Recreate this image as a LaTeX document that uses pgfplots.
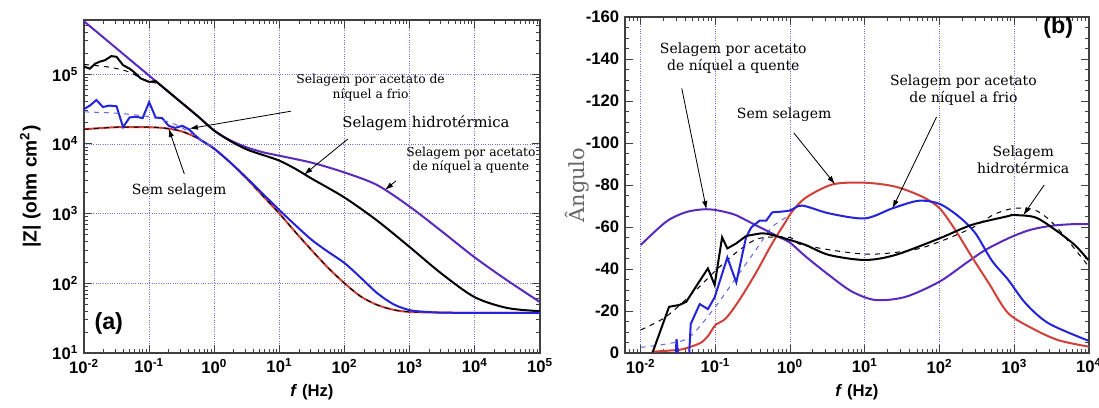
\documentclass[border=0pt]{standalone}
\usepackage{fontspec}
\setmainfont{DejaVu Serif}
\setsansfont{Liberation Sans}
\usepackage{pgfplots}
\pgfplotsset{compat=1.18}
\usetikzlibrary{arrows.meta}

\definecolor{cquente}{HTML}{5A2ABE}
\definecolor{cfrio}{HTML}{2323D9}
\definecolor{csem}{HTML}{D2403A}
\definecolor{cgrid}{HTML}{7070D8}

\tikzset{
  ann/.style={font=\fontsize{7.4}{8.6}\selectfont, align=center, text=black},
  annb/.style={font=\fontsize{8.4}{10}\selectfont, align=center, text=black},
  arr/.style={-{Latex[length=5pt,width=3.2pt]}, line width=0.5pt, black},
}

\begin{document}
\begin{tikzpicture}
\useasboundingbox (0,0) rectangle (659.4pt,244.2pt);

% ---------- (a) modulus ----------
\begin{axis}[
  scale only axis,
  at={(50.4pt,32.4pt)}, anchor=south west,
  width=273.6pt, height=199.8pt,
  xmode=log, ymode=log,
  xmin=0.01, xmax=100000, ymin=10, ymax=600000,
  xtick={0.01,0.1,1,10,100,1000,10000,100000},
  minor xtick={0.02,0.03,0.04,0.05,0.06,0.07,0.08,0.09,
    0.2,0.3,0.4,0.5,0.6,0.7,0.8,0.9,2,3,4,5,6,7,8,9,
    20,30,40,50,60,70,80,90,200,300,400,500,600,700,800,900,
    2000,3000,4000,5000,6000,7000,8000,9000,
    20000,30000,40000,50000,60000,70000,80000,90000},
  ytick={10,100,1000,10000,100000},
  minor ytick={20,30,40,50,60,70,80,90,200,300,400,500,600,700,800,900,
    2000,3000,4000,5000,6000,7000,8000,9000,
    20000,30000,40000,50000,60000,70000,80000,90000,
    200000,300000,400000,500000},
  xticklabels={10\textsuperscript{-2},10\textsuperscript{-1},10\textsuperscript{0},10\textsuperscript{1},10\textsuperscript{2},10\textsuperscript{3},10\textsuperscript{4},10\textsuperscript{5}},
  yticklabels={10\textsuperscript{1},10\textsuperscript{2},10\textsuperscript{3},10\textsuperscript{4},10\textsuperscript{5}},
  tick align=inside,
  major tick length=4.8pt, minor tick length=2.4pt,
  axis line style={line width=0.9pt, black!75},
  tick style={black!75, line width=0.6pt},
  tick label style={font=\sffamily\bfseries\fontsize{10}{10}\selectfont},
  xlabel style={font=\sffamily\bfseries\fontsize{10}{11}\selectfont},
  ylabel style={font=\sffamily\bfseries\fontsize{11.5}{12}\selectfont},
  major grid style={densely dotted, line width=0.5pt, cgrid},
  grid=major,
  xlabel={\textit{f} (Hz)},
  ylabel={|Z| (ohm cm\textsuperscript{2})},
]
\addplot[cquente, line width=1.2pt, smooth] coordinates {
 (0.01,575400) (0.01778,367300) (0.03162,234400) (0.05623,149600) (0.1,95500)
 (0.1778,60950) (0.3162,38900) (0.5623,24830) (1,15490) (1.778,11220)
 (3.162,8913) (5.623,7586) (10,6761) (31.62,5370) (100,3890) (316.2,2570)
 (1000,1259) (3162,549.5) (10000,234.4) (31623,109.6) (100000,53.7)};
\addplot[black, line width=1.2pt] coordinates {
 (0.01,128800) (0.0123,120200) (0.01479,141300) (0.01738,151400) (0.02089,158500)
 (0.0263,182000) (0.03162,177800) (0.03981,134900) (0.05012,120200) (0.05888,107200)
 (0.07413,87100) (0.1,77600) (0.1259,79800)};
\addplot[black, line width=1.2pt, smooth] coordinates {
 (0.1259,79800) (0.1778,60950) (0.3162,38900)
 (0.5623,24830) (1,15490) (1.778,10960) (3.162,8318) (5.623,6918) (10,5754)
 (17.78,4365) (31.62,3162) (100,1698) (316.2,794) (1000,331) (3162,135)
 (10000,63.1) (31623,44.2) (100000,39.8)};
\addplot[black, dashed, line width=0.6pt, smooth] coordinates {
 (0.01,138000) (0.02512,125900) (0.05012,107200) (0.07943,85100) (0.1413,72400)};
\addplot[csem, line width=1.2pt, smooth] coordinates {
 (0.01,16220) (0.03162,17380) (0.1,17380) (0.1778,16790) (0.3162,15140)
 (0.5623,12020) (1,8511) (1.778,5370) (3.162,3162) (5.623,1778) (10,1000)
 (17.78,537) (31.62,295) (56.23,166) (100,100) (177.8,64.6) (316.2,49)
 (562.3,41.7) (1000,38.9) (3162,38) (10000,37.6) (100000,37.6)};
\addplot[black, dashed, line width=0.6pt, smooth] coordinates {
 (0.01,16220) (0.03162,17380) (0.1,17380) (0.1778,16790) (0.3162,15140)
 (0.5623,12020) (1,8511) (1.778,5370) (3.162,3162) (5.623,1778) (10,1000)
 (17.78,537) (31.62,295) (56.23,166) (100,100) (177.8,64.6) (316.2,49)
 (562.3,41.7) (1000,38.9) (3162,38) (10000,37.6) (100000,37.6)};
\addplot[cfrio, line width=1.2pt] coordinates {
 (0.01,31620) (0.0123,35480) (0.01549,42660) (0.0195,33880) (0.02455,35480)
 (0.03162,34670) (0.03981,17380) (0.05012,23990) (0.0631,24550) (0.07943,23440)
 (0.1,39810) (0.1259,23990) (0.1585,23440) (0.1995,18200) (0.2512,16980)
 (0.3236,18200) (0.4074,16220) (0.5129,13180) (0.631,11220)};
\addplot[cfrio, line width=1.2pt, smooth] coordinates {
 (0.631,11220) (1,8511)
 (1.778,5370) (3.162,3236) (5.623,1905) (10,1122) (17.78,676) (31.62,417)
 (56.23,282) (100,195) (177.8,120) (316.2,72.4) (562.3,50.1) (1000,41.2)
 (1778,38.9) (3162,38) (10000,37.6) (100000,37.6)};
\addplot[cfrio!70, dashed, line width=0.6pt, smooth] coordinates {
 (0.01,28840) (0.03162,27540) (0.1,24550) (0.2512,19050) (0.5012,13180) (1,8511)};

\node[ann] at (axis cs:251.2,64570) {Selagem por acetato de\\níquel a frio};
\node[annb, font=\fontsize{8.9}{10}\selectfont] at (axis cs:1778,19950) {Selagem hidrotérmica};
\node[ann] at (axis cs:8710,5888) {Selagem por acetato\\de níquel a quente};
\node[annb] at (axis cs:0.2884,2138) {Sem selagem};
\node[font=\sffamily\bfseries\fontsize{14}{14}\selectfont] at (axis cs:0.024,26.9) {(a)};
\draw[arr] (axis cs:15.14,29510) -- (axis cs:0.4169,16600);
\draw[arr] (axis cs:112.2,11750) -- (axis cs:23.99,3631);
\draw[arr] (axis cs:616.6,2951) -- (axis cs:416.9,2188);
\draw[arr] (axis cs:0.3467,3715) -- (axis cs:0.1995,16600);
\end{axis}

% ---------- (b) phase ----------
\begin{axis}[
  scale only axis,
  at={(375pt,32.4pt)}, anchor=south west,
  width=278.4pt, height=201.6pt,
  xmode=log,
  xmin=0.00617, xmax=10000, ymin=-160, ymax=0,
  y dir=reverse,
  xtick={0.01,0.1,1,10,100,1000,10000},
  minor xtick={0.007,0.008,0.009,0.02,0.03,0.04,0.05,0.06,0.07,0.08,0.09,
    0.2,0.3,0.4,0.5,0.6,0.7,0.8,0.9,2,3,4,5,6,7,8,9,
    20,30,40,50,60,70,80,90,200,300,400,500,600,700,800,900,
    2000,3000,4000,5000,6000,7000,8000,9000},
  xticklabels={10\textsuperscript{-2},10\textsuperscript{-1},10\textsuperscript{0},10\textsuperscript{1},10\textsuperscript{2},10\textsuperscript{3},10\textsuperscript{4}},
  ytick={-160,-140,-120,-100,-80,-60,-40,-20,0},
  yticklabels={-160,-140,-120,-100,-80,-60,-40,-20,0},
  minor y tick num=3,
  tick align=inside,
  major tick length=4.8pt, minor tick length=2.4pt,
  axis line style={line width=0.9pt, black!75},
  tick style={black!75, line width=0.6pt},
  tick label style={font=\sffamily\bfseries\fontsize{10}{10}\selectfont},
  xlabel style={font=\sffamily\bfseries\fontsize{10}{11}\selectfont},
  major grid style={densely dotted, line width=0.5pt, cgrid},
  xmajorgrids,
  xlabel={\textit{f} (Hz)},
  ylabel={Ângulo},
  ylabel shift=-9pt,
  ylabel style={font=\rmfamily\fontsize{12.5}{13}\selectfont, text=black!60},
]
\addplot[black, dashed, line width=0.6pt, smooth] coordinates {
 (0.01,-11) (0.02188,-17.3) (0.05495,-30) (0.1023,-39.5) (0.2089,-49) (0.389,-54.6)
 (1,-55) (1.479,-51.4) (10,-47.1) (42.66,-49) (100,-53) (269.2,-59.5) (537,-66)
 (1000,-68.9) (1905,-68) (3548,-60.6) (10000,-41)};
\addplot[cfrio!70, dashed, line width=0.6pt, smooth] coordinates {
 (0.01,-2.7) (0.02188,-4.3) (0.04467,-7.5) (0.1,-22) (0.1905,-36) (0.3467,-49)
 (0.5754,-60) (1,-65.6)};
\addplot[cquente, line width=1.2pt, smooth] coordinates {
 (0.01,-51.4) (0.02188,-62.5) (0.03981,-67) (0.06761,-68.4) (0.1,-68.1)
 (0.1778,-66) (0.2818,-62.5) (0.5012,-58) (0.7244,-55.1) (1,-52.5) (1.622,-45.9)
 (3.311,-37.1) (6.761,-29.2) (14.13,-25.2) (35.48,-26.8) (100,-34) (223.9,-42.7)
 (407.4,-49) (831.8,-54.6) (1585,-58.5) (3020,-60.5) (5623,-61.3) (10000,-61.4)};
\addplot[csem, line width=1.2pt, smooth] coordinates {
 (0.01413,-0.6) (0.02512,-1.2) (0.03631,-1.8) (0.06166,-4.6) (0.07943,-8)
 (0.1,-13.3) (0.138,-16.5) (0.2089,-25.2) (0.3467,-38) (0.5754,-52.2)
 (0.871,-62.5) (1.072,-67.5) (1.622,-74) (3.715,-80.3) (10,-81.1) (25.7,-79.2)
 (58.88,-74.4) (100,-68.9) (162.2,-58.6) (269.2,-45.9) (457.1,-33.2)
 (831.8,-18.9) (1905,-11) (3981,-6) (10000,-3)};
\addplot[cfrio, line width=1.2pt] coordinates {
 (0.02951,0) (0.0302,-6.6) (0.03162,0)};
\addplot[cfrio, line width=1.2pt] coordinates {
 (0.04467,0) (0.04677,-13.8) (0.06166,-23.3) (0.07943,-20.9) (0.09772,-26.5)
 (0.1445,-45.5) (0.1905,-33.6) (0.257,-55.1) (0.302,-59.8) (0.389,-63)
 (0.4786,-63) (0.5754,-67)};
\addplot[cfrio, line width=1.2pt, smooth] coordinates {
 (0.5754,-67) (0.9772,-67.8) (1.445,-70.2) (3.311,-66.5) (10,-64.1)
 (23.44,-68.9) (52.48,-72.5) (100,-71) (182,-64.9) (302,-57) (501.2,-44)
 (831.8,-34.8) (1413,-23.7) (2884,-14.1) (9772,-5.9)};
\addplot[black, line width=1.2pt] coordinates {
 (0.01445,-0.3) (0.02399,-22) (0.03311,-22.9) (0.04074,-24.4) (0.05495,-31.6)
 (0.07943,-40.3) (0.09772,-32.4) (0.123,-55.1) (0.1445,-49.8) (0.1905,-52.2)
 (0.257,-55.7)};
\addplot[black, line width=1.2pt, smooth] coordinates {
 (0.257,-55.7) (0.4266,-57) (0.5754,-56.2) (1,-53.8) (1.622,-51.4) (3.311,-46.7)
 (10,-44.3) (25.7,-46.7) (100,-54.6) (269.2,-61) (831.8,-65.2) (955,-65.7)
 (1905,-64.6) (3548,-58.6) (6457,-51.4) (9772,-44.3)};

\node[annb] at (axis cs:0.1738,-140.5) {Selagem por acetato\\de níquel a quente};
\node[annb] at (axis cs:0.8318,-113.3) {Sem selagem};
\node[annb] at (axis cs:208.9,-125.2) {Selagem por acetato\\de níquel a frio};
\node[annb] at (axis cs:1318,-91.9) {Selagem\\hidrotérmica};
\node[font=\sffamily\bfseries\fontsize{14}{14}\selectfont] at (axis cs:3890,-155) {(b)};
\draw[arr] (axis cs:0.03548,-126) -- (axis cs:0.07586,-68.4);
\draw[arr] (axis cs:1.122,-104.8) -- (axis cs:3.981,-80.4);
\draw[arr] (axis cs:91.2,-112.4) -- (axis cs:23.44,-68.9);
\draw[arr] (axis cs:2512,-80) -- (axis cs:1318,-65.6);
\end{axis}
\end{tikzpicture}
\end{document}
